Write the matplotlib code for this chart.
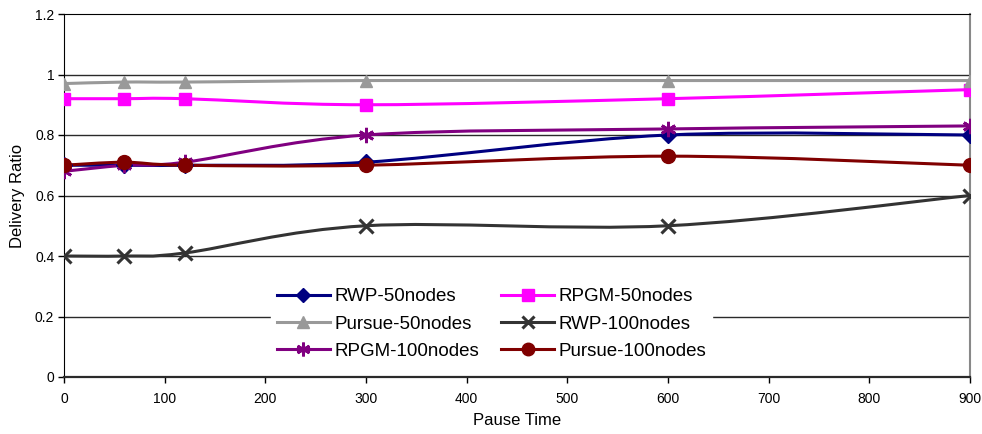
import numpy as np
import matplotlib
matplotlib.use("Agg")
import matplotlib.pyplot as plt
from matplotlib.path import Path
from matplotlib.patches import PathPatch

plt.rcParams['font.family'] = ['Liberation Sans', 'DejaVu Sans']

pause_time = [0, 60, 120, 300, 600, 900]
rwp_50 = [0.70, 0.70, 0.70, 0.71, 0.80, 0.80]
rpgm_50 = [0.92, 0.92, 0.92, 0.90, 0.92, 0.95]
pursue_50 = [0.97, 0.975, 0.975, 0.98, 0.98, 0.98]
rwp_100 = [0.40, 0.40, 0.41, 0.50, 0.50, 0.60]
rpgm_100 = [0.68, 0.70, 0.71, 0.80, 0.82, 0.83]
pursue_100 = [0.70, 0.71, 0.70, 0.70, 0.73, 0.70]


def smooth_path(x, y):
    # excel-ish smoothed line: catmull-rom control points as cubic bezier
    x = np.asarray(x, float)
    y = np.asarray(y, float)
    n = len(x)
    verts = [(x[0], y[0])]
    codes = [Path.MOVETO]
    for i in range(n - 1):
        i0 = max(i - 1, 0)
        i3 = min(i + 2, n - 1)
        c1 = (x[i] + (x[i+1] - x[i0]) / 6, y[i] + (y[i+1] - y[i0]) / 6)
        c2 = (x[i+1] - (x[i3] - x[i]) / 6, y[i+1] - (y[i3] - y[i]) / 6)
        verts += [c1, c2, (x[i+1], y[i+1])]
        codes += [Path.CURVE4] * 3
    return Path(verts, codes)


fig = plt.figure(figsize=(9.82, 4.34), dpi=100)
ax = fig.add_axes([64/982, 1 - 377/434, 906/982, 363/434])

series = [
    ("RWP-50nodes", rwp_50, "#000080", "D", 8, None),
    ("RPGM-50nodes", rpgm_50, "#FF00FF", "s", 9, None),
    ("Pursue-50nodes", pursue_50, "#999999", "^", 9, None),
    ("RWP-100nodes", rwp_100, "#333333", "x", 10, 2.2),
    ("RPGM-100nodes", rpgm_100, "#800080", (6, 2, 0), 11, 2.0),
    ("Pursue-100nodes", pursue_100, "#800000", "o", 10, None),
]

for yv in [0.2, 0.4, 0.6, 0.8, 1.0]:
    ax.axhline(yv, color="#2a2a2a", lw=1.0, zorder=1)

handles = []
for name, vals, col, mk, ms, mew in series:
    ax.add_patch(PathPatch(smooth_path(pause_time, vals), facecolor="none",
                           edgecolor=col, lw=2.2, zorder=3))
    kw = dict(color=col, marker=mk, markersize=ms, linestyle="none", zorder=4)
    if mew:
        kw["markeredgewidth"] = mew
    ax.plot(pause_time, vals, **kw)
    h, = ax.plot([], [], color=col, lw=2.2, marker=mk, markersize=ms * 0.9,
                 markeredgewidth=mew if mew else 1.0)
    handles.append(h)

ax.set_xlim(0, 900)
ax.set_ylim(0, 1.2)
ax.set_xticks(range(0, 901, 100))
ax.set_yticks([0, 0.2, 0.4, 0.6, 0.8, 1.0, 1.2])
ax.set_yticklabels(["0", "0.2", "0.4", "0.6", "0.8", "1", "1.2"])
ax.tick_params(labelsize=10, direction="out", length=4, width=1, pad=3, colors="black")
ax.tick_params(axis="x", pad=7)
ax.set_xlabel("Pause Time", fontsize=12, labelpad=5)
ax.set_ylabel("Delivery Ratio", fontsize=12, labelpad=7)

ax.spines["left"].set_color("black")
ax.spines["bottom"].set_color("#2a2a2a")
ax.spines["bottom"].set_linewidth(1.6)
ax.spines["top"].set_color("black")
ax.spines["right"].set_color("#888888")
ax.spines["right"].set_linewidth(1.5)

# legend reads row by row, matplotlib fills columns first
order = [0, 2, 4, 1, 3, 5]
leg = ax.legend([handles[i] for i in order], [series[i][0] for i in order],
                ncol=2, loc="lower left",
                bbox_to_anchor=(198/906, 2/363, 456/906, 83/363),
                fontsize=13.5, frameon=True, fancybox=False, framealpha=1,
                edgecolor="white", handlelength=2.8, borderpad=0.3,
                labelspacing=0.55, columnspacing=1.2, handletextpad=0.25)
leg.set_zorder(5)

fig.savefig("out.png", dpi=100)
